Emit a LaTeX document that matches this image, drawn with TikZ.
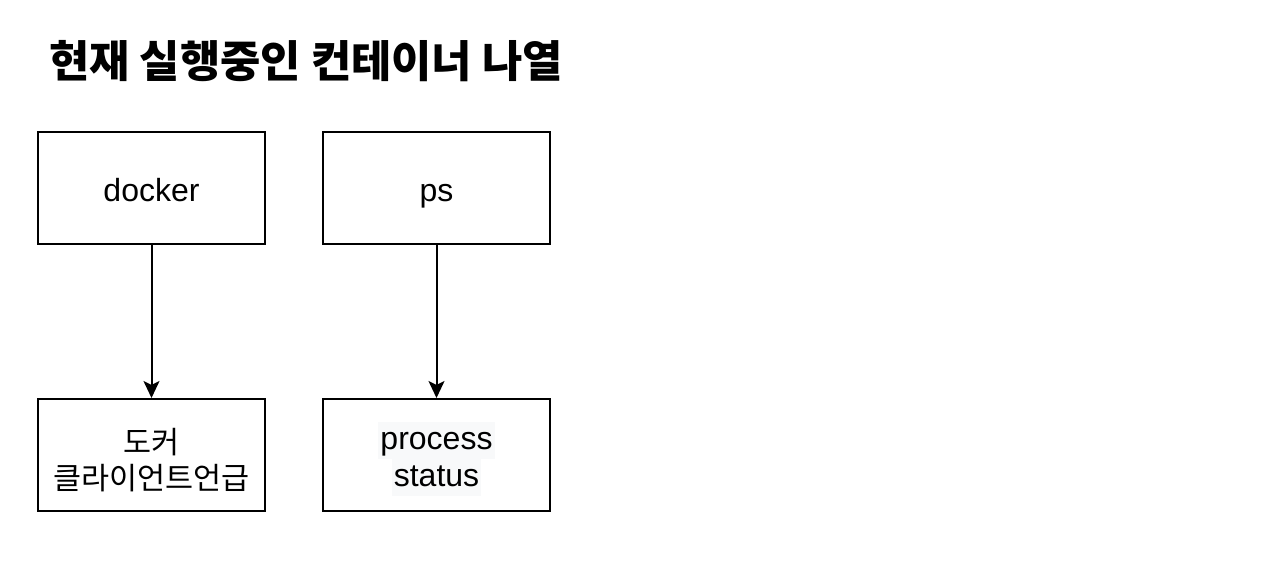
\documentclass[tikz,border=0pt]{standalone}
\usepackage{fontspec}
\setmainfont{Liberation Sans}
\newfontfamily\kr{Noto Sans CJK KR}
\usetikzlibrary{arrows.meta}
\definecolor{hl}{HTML}{F8F9FA}
\newcommand{\hlline}[1]{{\setlength{\fboxsep}{0pt}\colorbox{hl}{\rule[-9pt]{0pt}{37pt}\hspace{2pt}#1\hspace{2pt}}}}
\newcommand{\twolines}[3]{\raisebox{#1}[\height][\depth]{\begin{tabular}{@{}c@{}}#2\\#3\end{tabular}}}
\begin{document}
\begin{tikzpicture}[x=1pt,y=-1pt,
  box/.style={draw=black,line width=2pt,minimum width=227pt,minimum height=112pt,inner sep=0pt,align=center,font=\fontsize{32}{37}\selectfont},
  single/.style={text height=30pt,text depth=4pt},
  conn/.style={line width=2pt,-{Stealth[length=17pt,width=16pt,inset=4pt]}}]
\useasboundingbox (0,0) rectangle (1282,578);
\node[anchor=west,font=\kr\bfseries\fontsize{43.8}{48}\selectfont,inner sep=0pt] (title) at (49,61) {현재 실행중인 컨테이너 나열};
\node[box,single] (docker) at (151.5,188) {docker};
\node[box,single] (ps) at (436.5,188) {ps};
\node[box,font=\kr\fontsize{30.5}{35}\selectfont] (client) at (151.5,455) {\twolines{-9pt}{도커}{클라이언트언급}};
\node[box] (status) at (436.5,455) {\def\arraystretch{0.7}\twolines{-3.5pt}{\hlline{process}}{\hlline{status}}};
\draw[conn] (docker) -- (client);
\draw[conn] (ps) -- (status);
\end{tikzpicture}
\end{document}
